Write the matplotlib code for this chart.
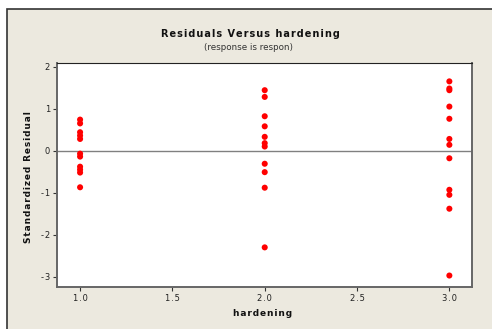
import matplotlib
matplotlib.use('Agg')
import matplotlib.pyplot as plt
from matplotlib.patches import Rectangle
import numpy as np

# residuals, by hardening level
hard_1 = [0.74, 0.65, 0.44, 0.36, 0.28, -0.07, -0.14, -0.38, -0.45, -0.52, -0.87]
hard_2 = [1.44, 1.28, 0.82, 0.58, 0.33, 0.18, 0.10, -0.31, -0.51, -0.88, -2.30]
hard_3 = [1.65, 1.48, 1.44, 1.05, 0.76, 0.28, 0.14, -0.18, -0.93, -1.05, -1.38, -2.97]
levels = [1.0, 2.0, 3.0]

xticks = [1.0, 1.5, 2.0, 2.5, 3.0]
yticks = [-3, -2, -1, 0, 1, 2]

bg = '#ECE9DF'


def spaced(s):
  # fake letter spacing with hair spaces
  return '\u200a'.join(s)


fig = plt.figure(figsize=(4.92, 3.29), dpi=100)
fig.patch.set_facecolor('white')
fig.patches.append(Rectangle((7 / 492, -0.05), 1.0, 1 - 9 / 329 + 0.05,
                             transform=fig.transFigure, facecolor=bg,
                             edgecolor='#333333', linewidth=1.2, zorder=-10))

ax = fig.add_axes([57 / 492, 1 - 287.3 / 329, 414.7 / 492, 224 / 329])
ax.set_facecolor('white')

for lev, vals in zip(levels, [hard_1, hard_2, hard_3]):
  ax.scatter([lev] * len(vals), vals, s=19, color='#FF0000', edgecolors='none', zorder=3)

ax.axhline(0, color='#808080', linewidth=1.0, zorder=2)

ax.set_xlim(0.875, 3.121)
ax.set_ylim(-3.25, 2.08)
ax.set_xticks(xticks)
ax.set_xticklabels([spaced('%.1f' % t) for t in xticks])
ax.set_yticks(yticks)
ax.set_yticklabels([spaced('%d' % t) for t in yticks])
ax.tick_params(direction='out', length=3, width=0.8, labelsize=6, pad=2,
               color='#333333', labelcolor='#222222')
for side in ['left', 'bottom', 'right']:
  ax.spines[side].set_color('#666666')
  ax.spines[side].set_linewidth(1.4)
ax.spines['top'].set_color('#222222')
ax.spines['top'].set_linewidth(0.8)

fig.text(250 / 492, 1 - 34 / 329, spaced('Residuals Versus hardening'),
         ha='center', va='center', fontsize=7, fontweight='bold', color='#111111')
fig.text(249 / 492, 1 - 47 / 329, '(response is respon)',
         ha='center', va='center', fontsize=6.3, color='#333333')
fig.text(263 / 492, 1 - 314 / 329, spaced('hardening'),
         ha='center', va='center', fontsize=6.5, fontweight='bold', color='#111111')
fig.text(29 / 492, 1 - 177 / 329, spaced('Standardized Residual'), rotation=90,
         ha='center', va='center', fontsize=6.5, fontweight='bold', color='#111111')

fig.savefig('out.png', dpi=100, facecolor=fig.get_facecolor())
